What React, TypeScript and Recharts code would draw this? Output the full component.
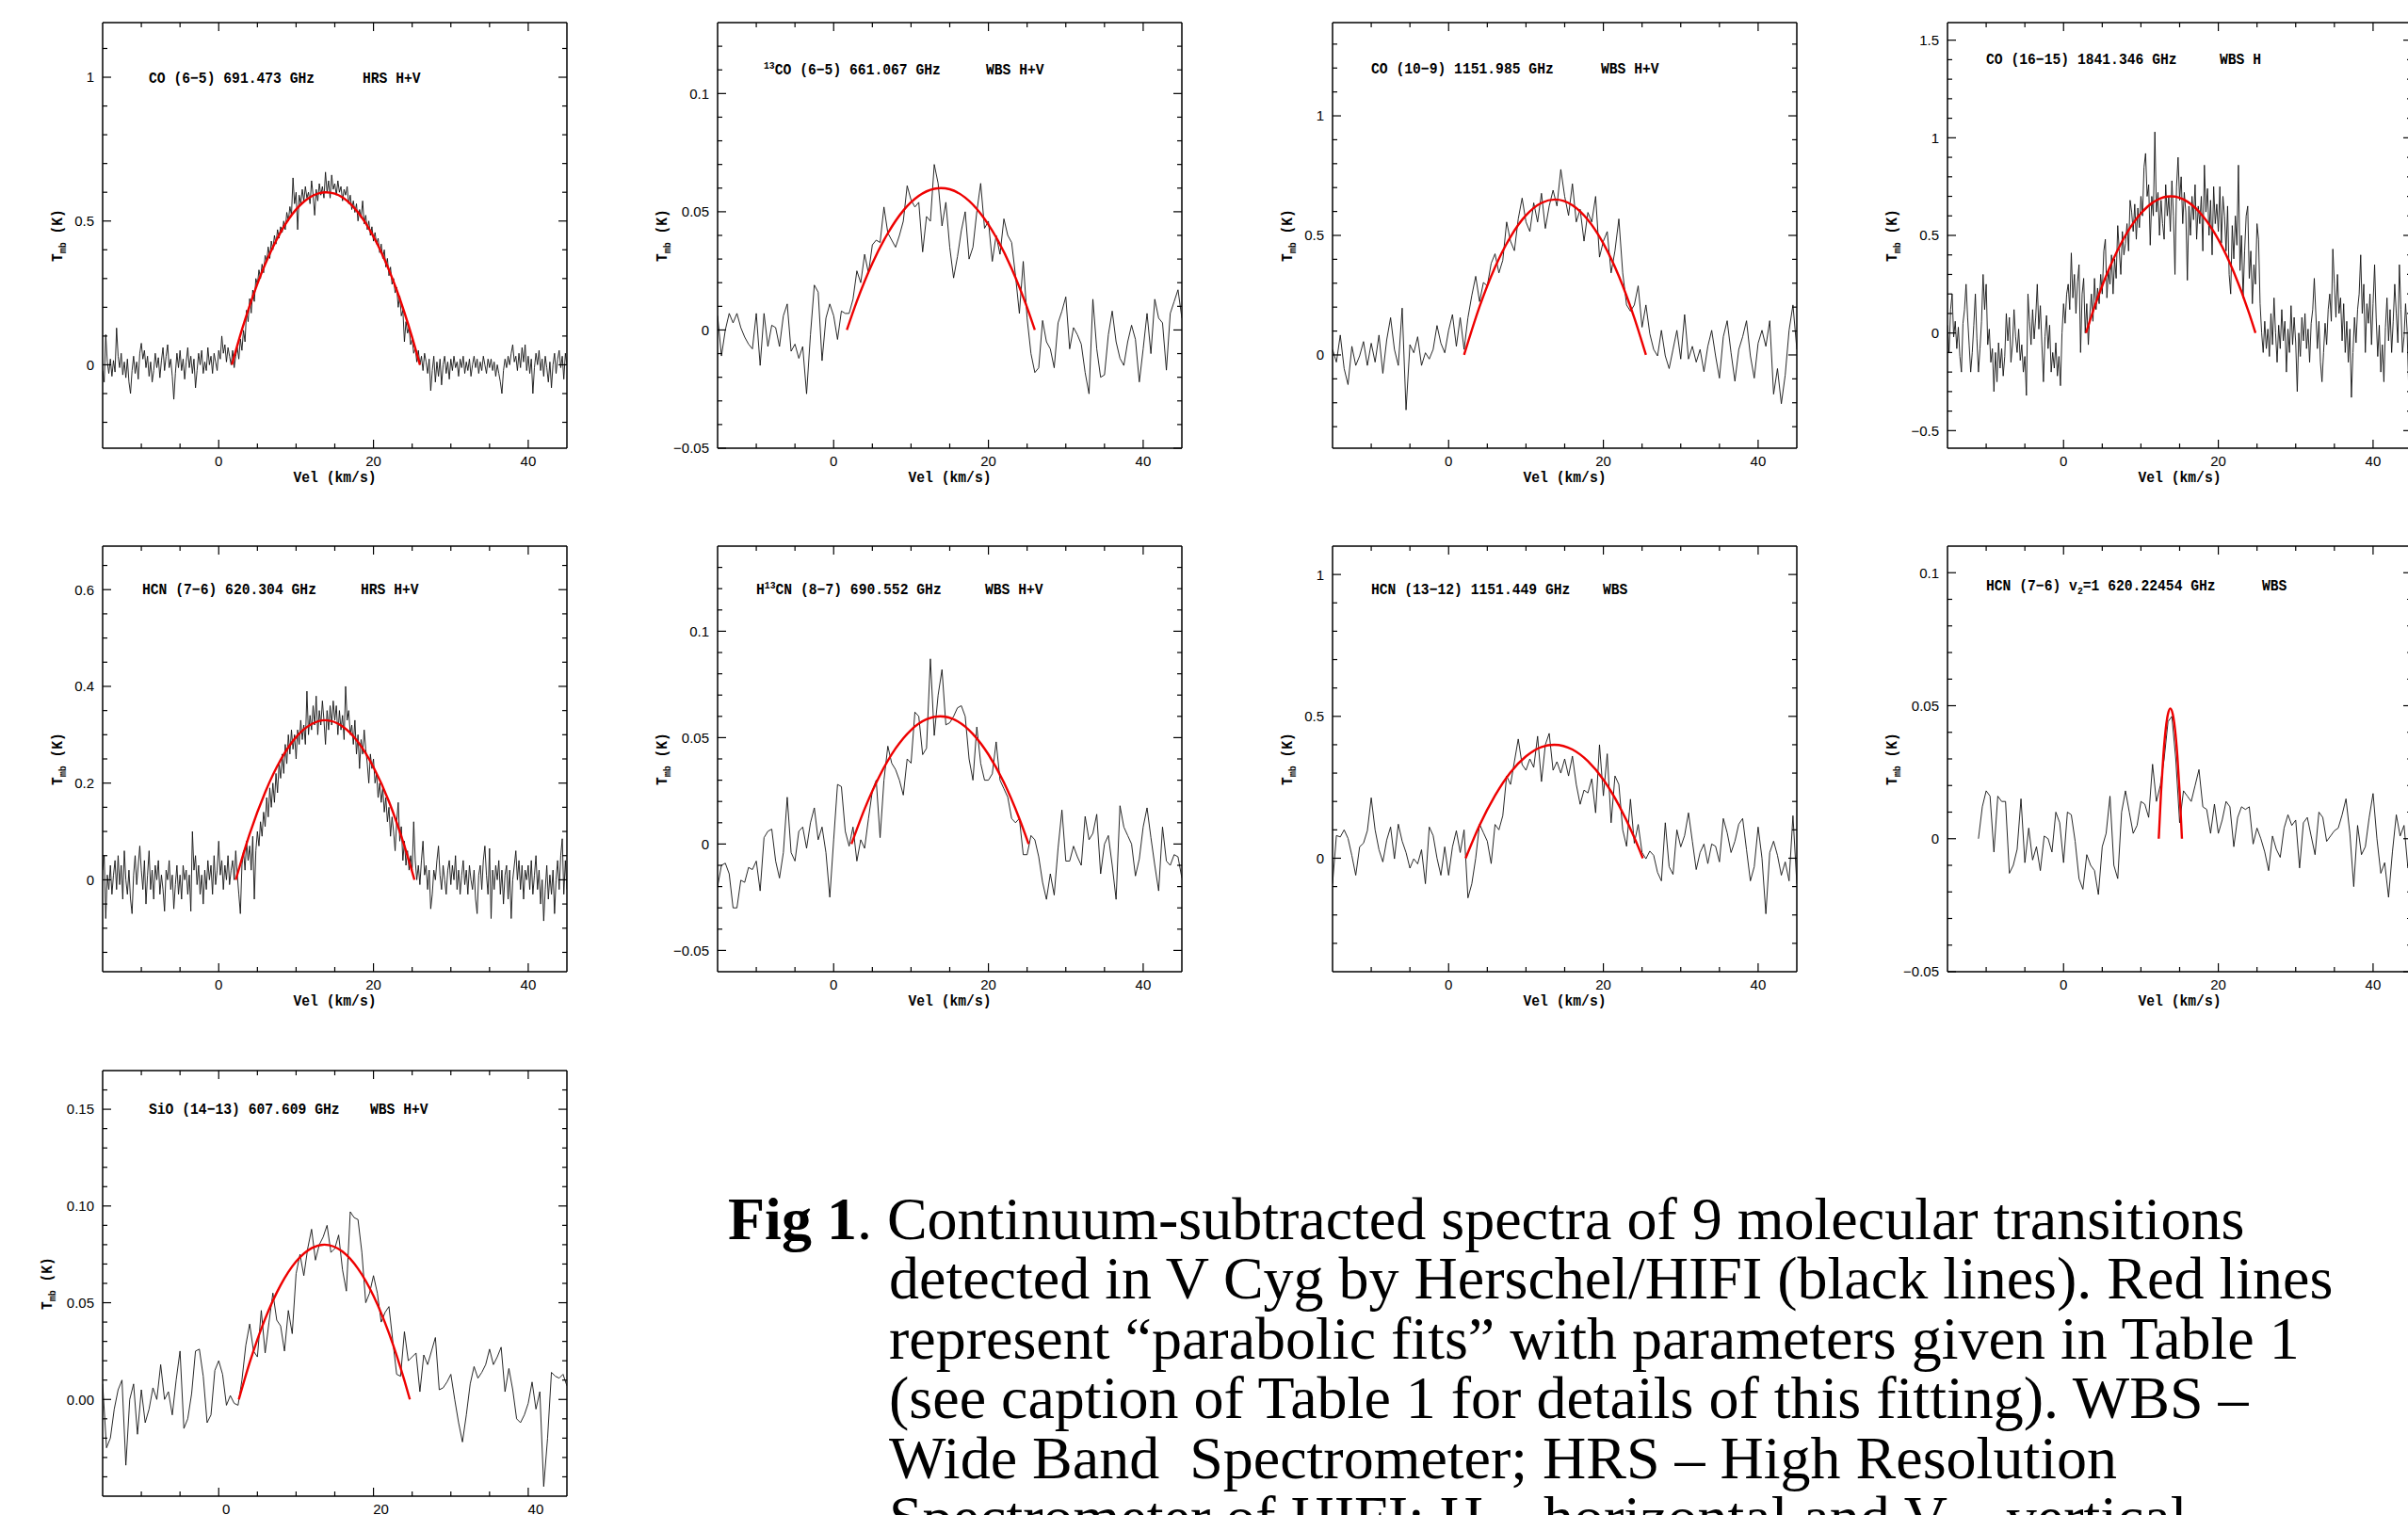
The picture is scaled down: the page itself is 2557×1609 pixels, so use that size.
import React from 'react';
import { LineChart, Line, XAxis, YAxis, ReferenceLine, Label } from 'recharts';

// ---------------- velocity axis (shared) ----------------
const VEL_MIN = -15;
const VEL_MAX = 45;
const VEL_TICKS = [-10, -5, 0, 5, 10, 15, 20, 25, 30, 35, 40];
const VEL_MAJOR = [0, 20, 40];
const VEL_LABELS = ['0', '20', '40'];

// ---------------- spectra (values in mK) ----------------
// CO (6-5) HRS: channels start at -15 km/s, 0.2 km/s apart
const co65Start = -15;
const co65Step = 0.2;
const co65 = [
  -20, -60, 105, 10, -30, 20, -40, 15, -25, 128, 30, -10, 40, -35, 10, -45, 20, -60, -100, -20, 30, -30, 10, -50, 40,
  75, 20, 50, -10, 30, -40, 10, -60, -20, 40, -10, 25, -45, 15, 60, -20, 30, 70, -10, 20, -40, -120, -30, 40, -10,
  50, -20, 20, -50, 10, 60, -10, 30, -30, 20, -80, -20, 40, 0, 50, -30, 10, -20, 60, 0, 30, -30, 40, 10, -20,
  50, 20, 100, 40, 70, 10, 60, 30, 0, 50, -10, 30, 60, 20, 90, 50, 120, 80, 190, 150, 230, 180, 260, 220, 300,
  280, 330, 300, 350, 320, 380, 360, 410, 370, 430, 400, 450, 420, 470, 440, 480, 460, 500, 470, 530, 500, 550, 520, 650, 560,
  600, 470, 590, 560, 610, 570, 620, 580, 600, 560, 640, 590, 520, 610, 570, 630, 590, 620, 580, 670, 600, 640, 580, 660, 610,
  630, 590, 640, 600, 620, 570, 610, 590, 620, 560, 590, 540, 570, 530, 560, 500, 540, 510, 570, 490, 520, 470, 500, 450, 480,
  430, 460, 420, 440, 390, 420, 370, 400, 340, 370, 310, 340, 280, 300, 250, 270, 200, 240, 170, 190, 80, 150, 110, 130, 70,
  90, 40, 60, 10, 50, 0, 30, -20, 40, 10, -30, 20, -90, -20, 30, -60, 10, -40, 20, -70, 0, 30, -30, 10, -50,
  20, -20, 30, -10, 10, -40, 20, -10, 30, -30, 10, -20, 20, -40, 0, 30, -10, 20, -30, 10, -20, 30, 0, -30, 20,
  -10, 20, -20, 10, -40, 0, -30, -60, -100, -20, 20, -10, 30, 0, 40, 70, 10, 30, -20, 40, -10, 60, 10, 70, -20,
  30, -30, 20, -100, -10, 40, 0, 50, -20, 20, -40, 30, -10, -60, 10, -80, 0, 40, -30, 20, 50, -10, 30, -50, 40, 0,
];
const co65FitVel = [1.7, 3, 5, 7, 9, 11, 13, 13.85, 15, 17, 19, 21, 23, 25, 26];
const co65Fit = [0, 122, 282, 409, 505, 567, 597, 600, 595, 560, 492, 392, 260, 95, 0];

// 13CO (6-5) WBS: start -15, 0.5 km/s apart
const c13oStart = -15;
const c13oStep = 0.5;
const c13o = [
  6, -11, 0, 7, 3, 7, 1, -3, -6, -8, 7, -15, 7, -7, 2, 1, -7, 6, 11, -9, -6, -12, -7, -27, -2, 19, 16, -13, 5, 11,
  6, -4, 8, 7, 7, 13, 25, 20, 32, 24, 36, 38, 37, 52, 41, 38, 35, 40, 46, 61, 55, 52, 54, 33, 48, 46, 70, 62, 44, 54,
  35, 22, 31, 42, 50, 30, 35, 50, 62, 43, 46, 29, 40, 32, 47, 40, 37, 23, 7, 29, 5, -10, -18, -16, 4, -5, -8, -16, 3, 8,
  14, -8, 1, -2, -6, -18, -27, 13, -8, -20, -19, -2, 8, -5, -12, -15, -5, 2, -4, -22, -8, 7, -10, 13, 5, 3, -17, 7, 12, 17, 5,
];
const c13oFitVel = [1.7, 3, 5, 7, 9, 11, 13, 13.85, 15, 17, 19, 21, 23, 25, 26];
const c13oFit = [0, 12.2, 28.2, 40.9, 50.5, 56.7, 59.7, 60, 59.5, 56, 49.2, 39.2, 26, 9.5, 0];

// CO (10-9) WBS
const co109Start = -15;
const co109Step = 0.5;
const co109 = [
  23, -30, 83, -57, -124, 36, -44, -4, 56, -44, 49, -30, 83, -77, 63, 156, 23, -44, 196, -230, 43, 9, 76, -44, 9, -17, 23, 123, 49, 9,
  103, 169, 36, 156, 23, 156, 249, 329, 223, 303, 289, 383, 423, 343, 396, 556, 476, 436, 569, 656, 556, 516, 636, 556, 676, 529, 623, 689, 623, 776,
  663, 583, 716, 556, 609, 476, 596, 556, 663, 409, 476, 516, 343, 436, 569, 343, 209, 183, 209, 289, 116, 209, 89, 23, -4, 103, -4, -57, 23, 103,
  -17, 169, -17, 36, -30, 23, -70, 36, 103, -4, -97, 76, 143, 9, -110, 23, 76, 143, -4, -97, 49, 103, 36, 143, -164, -57, -204, -84, 103, 209, 23,
];
const co109FitVel = [2.0, 4, 6, 8, 10, 12, 13.75, 16, 18, 20, 22, 24, 25.5];
const co109Fit = [0, 202, 367, 494, 584, 636, 650, 626, 565, 466, 330, 155, 0];

// CO (16-15) WBS H
const co1615Start = -15;
const co1615Step = 0.2;
const co1615 = [
  40, -100, 120, 200, -20, 60, -80, 30, -120, -200, 50, 120, 250, 80, -60, -200, -100, 40, 200, -30, -200, -80, 60, 300, 120,
  250, -60, 20, -150, -80, -300, -100, -250, -50, -180, -80, -220, -120, 100, -40, 80, -150, -60, 120, -20, -100, 20, -140, -60, -200,
  -120, -320, 200, 60, -60, 120, -30, 80, 250, 20, 140, -60, -250, -20, 90, -80, 40, -200, -100, -180, -50, -220, -120, -270, 0,
  150, 50, 200, 250, 120, 410, 180, 300, 100, 260, 350, -100, 200, 280, 0, 150, -60, 100, 200, 60, 280, 120, 230, 150, 300,
  200, 420, 480, 180, 320, 250, 400, 200, 380, 280, 550, 420, 300, 520, 400, 460, 560, 420, 680, 620, 520, 660, 480, 640, 540,
  700, 600, 850, 920, 700, 760, 450, 700, 600, 1030, 620, 720, 500, 680, 560, 480, 760, 600, 700, 520, 780, 600, 300, 750, 900,
  680, 800, 560, 720, 620, 270, 650, 500, 700, 580, 760, 480, 650, 560, 700, 420, 860, 620, 740, 500, 680, 400, 750, 560, 660,
  520, 750, 460, 700, 600, 420, 650, 300, 200, 550, 380, 600, 450, 860, 320, 500, 180, 420, 600, 650, 280, 420, 150, 350, 250,
  560, 480, 150, 0, -100, 60, -80, 20, -120, 100, -60, 180, 0, -150, 40, -80, 120, -40, 60, -200, 20, -100, 140, -60, 80,
  -50, -300, 0, -120, 80, -40, 100, -80, 20, -150, 50, 120, 280, 100, -80, 60, -150, -250, -100, 50, -60, 120, 200, 60, 430,
  250, 80, 300, 100, 180, -40, 150, -100, 60, -150, 20, -330, -100, 80, -50, 120, 200, 400, 100, 250, -100, 150, 50, 200, -60,
  150, 350, 80, -120, 40, -200, -60, -250, 30, 180, -40, 120, -100, 60, 250, 100, -50, 350, 120, -100, -20, 150, 10, -280, 50, -20,
];
const co1615FitVel = [2.9, 4, 6, 8, 10, 12, 13.85, 16, 18, 20, 22, 24, 24.8];
const co1615Fit = [0, 134, 340, 500, 613, 680, 700, 673, 599, 479, 312, 99, 0];

// HCN (7-6) HRS
const hcn76Start = -15;
const hcn76Step = 0.2;
const hcn76 = [
  20, 50, -80, 10, -20, 30, -30, 10, 40, -20, 50, -10, 30, -40, 60, 0, -30, 20, -40, -70, 10, 50, -10, 30, 70,
  20, -20, 40, -50, 10, 60, -20, 20, -40, 30, 0, 40, -30, 10, -20, -65, 20, 0, 40, -20, 10, -60, -10, 30, -30,
  10, -40, 30, 0, 20, -30, 10, -65, 100, 20, 50, -10, 30, -30, 10, -50, 20, -20, 40, 0, 30, -30, 50, -10, 20,
  80, 10, 40, -20, 30, 0, 50, -10, 20, 40, 0, 60, 10, -30, -70, 30, 60, 20, 80, 40, 70, 20, 90, -40, 60,
  100, 70, 120, 90, 140, 110, 170, 130, 190, 150, 200, 160, 220, 180, 240, 210, 260, 220, 280, 240, 300, 260, 310, 270, 300,
  250, 310, 280, 330, 290, 320, 280, 390, 300, 340, 310, 360, 320, 380, 300, 350, 320, 370, 330, 280, 350, 310, 360, 320, 370,
  330, 360, 300, 350, 310, 340, 290, 400, 330, 350, 300, 320, 280, 330, 260, 300, 230, 290, 260, 310, 270, 240, 200, 260, 230,
  250, 200, 220, 170, 200, 160, 190, 140, 170, 120, 150, 90, 130, 100, 60, 120, 160, 80, 110, 40, 80, 30, 60, 20, 50,
  20, 120, 40, 0, 30, -10, 40, 80, 10, 30, -20, 20, -60, -30, 20, 0, 40, 70, 10, -20, 30, 0, -30, 20, 40,
  -10, 30, 0, 50, -20, 20, -30, 10, 40, -10, 20, -30, 30, 0, -20, 20, -40, -70, 10, 30, -20, 40, 70, 10, -30,
  65, -80, 20, -20, 30, 0, 40, -30, 20, -50, 10, 30, -40, 20, -80, 0, 30, 60, 0, 40, -20, 30, -40, 20, 0,
  30, -20, 40, -30, 10, 50, -20, 20, -50, 0, -85, -20, 30, -40, 10, -30, 20, -70, 0, 40, -20, 50, 85, -30, 40, -20,
];
const hcn76FitVel = [2.2, 4, 6, 8, 10, 12, 13.75, 16, 18, 20, 22, 24, 25.3];
const hcn76Fit = [0, 95, 181, 248, 295, 322, 330, 317, 285, 233, 162, 70, 0];

// H13CN (8-7) WBS
const h13cnStart = -15;
const h13cnStep = 0.5;
const h13cn = [
  -20, -10, -9, -14, -30, -30, -17, -18, -11, -12, -8, -22, 3, 6, 7, -8, -16, -4, 22, -4, -8, 6, 8, -2, 10, 17, 2, 8, -4, -25,
  2, 28, 27, 6, -1, 8, -8, 2, -2, 12, 25, 30, 3, 30, 46, 38, 35, 30, 23, 40, 38, 62, 60, 42, 45, 87, 51, 70, 82, 56,
  57, 60, 64, 65, 60, 40, 30, 55, 38, 30, 30, 33, 48, 30, 26, 22, 12, 10, 12, -5, -5, 4, 2, -6, -18, -26, -14, -24, -2, 16,
  -8, -8, -1, -6, -10, 13, 2, 5, 14, -14, 0, 4, -10, -26, 18, 8, 4, 0, -15, -7, 8, 17, 3, -10, -22, 8, -8, -10, -5, -6, -16,
];
const h13cnFitVel = [2.3, 4, 6, 8, 10, 12, 13.75, 16, 18, 20, 22, 24, 25.2];
const h13cnFit = [0, 16.5, 32.5, 44.9, 53.6, 58.6, 60, 57.7, 51.7, 42.1, 28.9, 11.9, 0];

// HCN (13-12) WBS
const hcn1312Start = -15;
const hcn1312Step = 0.5;
const hcn1312 = [
  -90, 80, 75, 100, 70, 9, -60, 40, 53, 97, 213, 100, 30, -13, 64, 110, -2, 120, 60, 20, -35, -2, -20, 30, -90, 110, 80, 0, -60, 40,
  -60, 40, 97, 20, 100, -140, -90, 0, 120, 90, 60, -19, 119, 100, 150, 290, 260, 340, 420, 330, 310, 350, 320, 430, 270, 400, 440, 310, 340, 300,
  350, 290, 360, 260, 190, 240, 230, 280, 160, 400, 220, 368, 125, 290, 260, 100, 42, 208, 53, 119, 20, -2, 25, 10, -50, -80, 125, -30, -57, 100,
  40, 80, 160, 60, -40, 20, 50, -19, 50, 42, -13, 140, 90, 20, 60, 120, 140, 30, -80, -30, 110, 0, -196, 20, 60, 10, -60, -13, -80, 150, -90,
];
const hcn1312FitVel = [2.2, 4, 6, 8, 10, 12, 13.65, 16, 18, 20, 22, 24, 25.1];
const hcn1312Fit = [0, 116, 221, 303, 359, 392, 400, 383, 342, 277, 187, 73, 0];

// HCN (7-6) v2=1 WBS: starts at -11 km/s
const hcnv2Start = -11;
const hcnv2Step = 0.5;
const hcnv2 = [
  0, 12, 18, 16, -5, 16, 14, 14, -13, -10, -4, 15, -9, 4, -8, -3, -12, 1, 0, -5, 10, 6,
  -9, 10, 9, -1, -15, -19, -6, -10, -12, -21, -3, 2, 16, -10, -15, 10, 18, 10, 2, 5, 14, 13, 8, 28, 14, 20, 30, 44, 46, 30,
  6, 18, 16, 14, 20, 26, 12, 11, 2, 13, 2, 7, 14, 12, -3, 8, 12, 11, 12, -2, 4, 0, -5, -12, 1, -4, -7, 4, 9, 5,
  7, -11, 6, 8, 1, -6, 10, 8, -1, 1, 3, 4, 9, 15, 2, -18, 5, -6, -3, 8, 17, 0, -13, -9, -22, -5, 9, 1, 5, -11, -4,
];
const hcnv2FitVel = [12.3, 12.6, 12.9, 13.2, 13.5, 13.8, 14.1, 14.4, 14.7, 15.0, 15.3];
const hcnv2Fit = [0, 17.6, 31.4, 41.2, 47, 49, 47, 41.2, 31.4, 17.6, 0];

// SiO (14-13) WBS
const sioStart = -15;
const sioStep = 0.5;
const sio = [
  8, -25, -20, -5, 5, 10, -34, 0, 8, -18, 5, -12, -5, 6, 0, 18, 0, 4, -8, 10, 25, -15, -10, 3, 25, 26, 12, -12, -8, 15,
  20, 13, -3, 2, -2, -3, 10, 28, 39, 25, 22, 46, 24, 40, 55, 41, 38, 25, 46, 34, 65, 75, 64, 78, 88, 72, 80, 84, 90, 76,
  78, 85, 67, 56, 97, 94, 93, 76, 50, 55, 64, 55, 40, 45, 48, 30, 13, 12, 35, 20, 22, 24, 4, 23, 18, 25, 32, 5, 6, 9,
  13, 0, -12, -22, -8, 8, 17, 11, 14, 18, 26, 18, 22, 27, 4, 16, 5, -10, -12, -8, -2, 9, -5, 4, -45, -20, 14, 12, 11, 13, 7,
];
const sioFitVel = [2.6, 4, 6, 8, 10, 12, 13.65, 16, 18, 20, 22, 24, 24.7];
const sioFit = [0, 19, 41.7, 59.1, 71.3, 78.2, 80, 76.4, 67.6, 53.6, 34.3, 9.8, 0];

// ---------------- temperature axes (K) ----------------
const yCo65 = { domain: [-0.29, 1.19], ticks: [-0.2, -0.1, 0, 0.1, 0.2, 0.3, 0.4, 0.5, 0.6, 0.7, 0.8, 0.9, 1, 1.1], major: [0, 0.5, 1], labels: ['0', '0.5', '1'] };
const yC13o = { domain: [-0.05, 0.13], ticks: [-0.05, -0.04, -0.03, -0.02, -0.01, 0, 0.01, 0.02, 0.03, 0.04, 0.05, 0.06, 0.07, 0.08, 0.09, 0.1, 0.11, 0.12], major: [-0.05, 0, 0.05, 0.1], labels: ['\u22120.05', '0', '0.05', '0.1'] };
const yCo109 = { domain: [-0.39, 1.39], ticks: [-0.3, -0.2, -0.1, 0, 0.1, 0.2, 0.3, 0.4, 0.5, 0.6, 0.7, 0.8, 0.9, 1, 1.1, 1.2, 1.3], major: [0, 0.5, 1], labels: ['0', '0.5', '1'] };
const yCo1615 = { domain: [-0.59, 1.59], ticks: [-0.5, -0.4, -0.3, -0.2, -0.1, 0, 0.1, 0.2, 0.3, 0.4, 0.5, 0.6, 0.7, 0.8, 0.9, 1, 1.1, 1.2, 1.3, 1.4, 1.5], major: [-0.5, 0, 0.5, 1, 1.5], labels: ['\u22120.5', '0', '0.5', '1', '1.5'] };
const yHcn76 = { domain: [-0.19, 0.69], ticks: [-0.15, -0.1, -0.05, 0, 0.05, 0.1, 0.15, 0.2, 0.25, 0.3, 0.35, 0.4, 0.45, 0.5, 0.55, 0.6, 0.65], major: [0, 0.2, 0.4, 0.6], labels: ['0', '0.2', '0.4', '0.6'] };
const yH13cn = { domain: [-0.06, 0.14], ticks: [-0.05, -0.04, -0.03, -0.02, -0.01, 0, 0.01, 0.02, 0.03, 0.04, 0.05, 0.06, 0.07, 0.08, 0.09, 0.1, 0.11, 0.12, 0.13], major: [-0.05, 0, 0.05, 0.1], labels: ['\u22120.05', '0', '0.05', '0.1'] };
const yHcn1312 = { domain: [-0.4, 1.1], ticks: [-0.3, -0.2, -0.1, 0, 0.1, 0.2, 0.3, 0.4, 0.5, 0.6, 0.7, 0.8, 0.9, 1], major: [0, 0.5, 1], labels: ['0', '0.5', '1'] };
const yHcnv2 = { domain: [-0.05, 0.11], ticks: [-0.05, -0.04, -0.03, -0.02, -0.01, 0, 0.01, 0.02, 0.03, 0.04, 0.05, 0.06, 0.07, 0.08, 0.09, 0.1], major: [-0.05, 0, 0.05, 0.1], labels: ['\u22120.05', '0', '0.05', '0.1'] };
const ySio = { domain: [-0.05, 0.17], ticks: [-0.04, -0.03, -0.02, -0.01, 0, 0.01, 0.02, 0.03, 0.04, 0.05, 0.06, 0.07, 0.08, 0.09, 0.1, 0.11, 0.12, 0.13, 0.14, 0.15, 0.16], major: [0, 0.05, 0.1, 0.15], labels: ['0.00', '0.05', '0.10', '0.15'] };

// ---------------- panel titles ----------------
const titles = [
  { name: [{ t: 'CO (6\u22125) 691.473 GHz' }], inst: 'HRS H+V' },
  { name: [{ t: '13', sup: true }, { t: 'CO (6\u22125) 661.067 GHz' }], inst: 'WBS H+V' },
  { name: [{ t: 'CO (10\u22129) 1151.985 GHz' }], inst: 'WBS H+V' },
  { name: [{ t: 'CO (16\u221215) 1841.346 GHz' }], inst: 'WBS H' },
  { name: [{ t: 'HCN (7\u22126) 620.304 GHz' }], inst: 'HRS H+V' },
  { name: [{ t: 'H' }, { t: '13', sup: true }, { t: 'CN (8\u22127) 690.552 GHz' }], inst: 'WBS H+V' },
  { name: [{ t: 'HCN (13\u221212) 1151.449 GHz' }], inst: 'WBS' },
  { name: [{ t: 'HCN (7\u22126) v' }, { t: '2', sub: true }, { t: '=1 620.22454 GHz' }], inst: 'WBS' },
  { name: [{ t: 'SiO (14\u221213) 607.609 GHz' }], inst: 'WBS H+V' },
];

const captionLines = [
  'detected in V Cyg by Herschel/HIFI (black lines). Red lines',
  'represent \u201cparabolic fits\u201d with parameters given in Table 1',
  '(see caption of Table 1 for details of this fitting). WBS \u2013',
  'Wide Band  Spectrometer; HRS \u2013 High Resolution',
  'Spectrometer of HIFI; H \u2013 horizontal and V \u2013 vertical',
];

// ---------------- table builders ----------------
const channelRows = (start: number, step: number, mK: number[]) =>
  mK.map((t, i) => ({ v: Math.round((start + i * step) * 100) / 100, t: t / 1000 }));
const fitRows = (vel: number[], mK: number[]) => vel.map((v, i) => ({ v, t: mK[i] / 1000 }));

// ---------------- layout ----------------
const PW = 493;
const PH = 452;
const ML = 110;
const MR = 4;
const MT = 6;
const MB = 52;
const CW = ML + PW + MR;
const CH = MT + PH + MB;
const COLS = [109, 762, 1415, 2068];
const ROWS = [24, 580, 1137];

const LABEL_FONT = "'Liberation Mono','DejaVu Sans Mono',monospace";
const LABEL_SIZE = 16.5;
const LABEL_SX = 0.89;
const TICK_FONT = "'Liberation Sans',Arial,sans-serif";
const INK = '#000';

const PANELS = [
  { col: 0, row: 0, spec: channelRows(co65Start, co65Step, co65), fit: fitRows(co65FitVel, co65Fit), y: yCo65, title: titles[0], tx: 49, ty: 64, ix: 276, yt: 49, xdx: 0 },
  { col: 1, row: 0, spec: channelRows(c13oStart, c13oStep, c13o), fit: fitRows(c13oFitVel, c13oFit), y: yC13o, title: titles[1], tx: 49, ty: 55, ix: 285, yt: 60, xdx: 0 },
  { col: 2, row: 0, spec: channelRows(co109Start, co109Step, co109), fit: fitRows(co109FitVel, co109Fit), y: yCo109, title: titles[2], tx: 41, ty: 54, ix: 285, yt: 49, xdx: 0 },
  { col: 3, row: 0, spec: channelRows(co1615Start, co1615Step, co1615), fit: fitRows(co1615FitVel, co1615Fit), y: yCo1615, title: titles[3], tx: 41, ty: 44, ix: 289, yt: 60, xdx: 0 },
  { col: 0, row: 1, spec: channelRows(hcn76Start, hcn76Step, hcn76), fit: fitRows(hcn76FitVel, hcn76Fit), y: yHcn76, title: titles[4], tx: 42, ty: 51, ix: 274, yt: 49, xdx: 0 },
  { col: 1, row: 1, spec: channelRows(h13cnStart, h13cnStep, h13cn), fit: fitRows(h13cnFitVel, h13cnFit), y: yH13cn, title: titles[5], tx: 41, ty: 51, ix: 284, yt: 60, xdx: 0 },
  { col: 2, row: 1, spec: channelRows(hcn1312Start, hcn1312Step, hcn1312), fit: fitRows(hcn1312FitVel, hcn1312Fit), y: yHcn1312, title: titles[6], tx: 41, ty: 51, ix: 287, yt: 49, xdx: 0 },
  { col: 3, row: 1, spec: channelRows(hcnv2Start, hcnv2Step, hcnv2), fit: fitRows(hcnv2FitVel, hcnv2Fit), y: yHcnv2, title: titles[7], tx: 41, ty: 47, ix: 334, yt: 60, xdx: 0 },
  { col: 0, row: 2, spec: channelRows(sioStart, sioStep, sio), fit: fitRows(sioFitVel, sioFit), y: ySio, title: titles[8], tx: 49, ty: 46, ix: 284, yt: 60, xdx: 8 },
];

const near = (a: number, b: number) => Math.abs(a - b) < 1e-6;

function RichText({ parts, x, y }: { parts: any[]; x: number; y: number }) {
  let shift = 0;
  return (
    <g transform={`translate(${x}, ${y}) scale(${LABEL_SX}, 1)`}>
      <text x={0} y={0} fontFamily={LABEL_FONT} fontWeight="bold" fontSize={LABEL_SIZE} fill={INK} style={{ whiteSpace: 'pre' }}>
        {parts.map((p, i) => {
          const target = p.sup ? -6 : p.sub ? 4 : 0;
          const dy = target - shift;
          shift = target;
          return (
            <tspan key={i} dy={dy} fontSize={p.sup || p.sub ? 11 : LABEL_SIZE}>
              {p.t}
            </tspan>
          );
        })}
      </text>
    </g>
  );
}

function Panel({ cfg }: { cfg: any }) {
  const { col, row, spec, fit, y, title, tx, ty, ix, yt, xdx } = cfg;
  const left = COLS[col];
  const top = ROWS[row];

  const renderXTick = (props: any) => {
    const { x, y: yy, payload } = props;
    const mi = VEL_MAJOR.findIndex((m) => near(m, payload.value));
    const len = mi >= 0 ? 9 : 5;
    return (
      <g>
        <line x1={x} x2={x} y1={yy} y2={yy - len} stroke={INK} strokeWidth={1.2} />
        <line x1={x} x2={x} y1={yy - PH} y2={yy - PH + len} stroke={INK} strokeWidth={1.2} />
        {mi >= 0 && (
          <text x={x + xdx} y={yy + 19} textAnchor="middle" fontFamily={TICK_FONT} fontSize={15} fill={INK}>
            {VEL_LABELS[mi]}
          </text>
        )}
      </g>
    );
  };

  const renderYTick = (props: any) => {
    const { x, y: yy, payload } = props;
    const mi = y.major.findIndex((m: number) => near(m, payload.value));
    const len = mi >= 0 ? 9 : 5;
    return (
      <g>
        <line x1={x} x2={x + len} y1={yy} y2={yy} stroke={INK} strokeWidth={1.2} />
        <line x1={x + PW} x2={x + PW - len} y1={yy} y2={yy} stroke={INK} strokeWidth={1.2} />
        {mi >= 0 && (
          <text x={x - 9} y={yy} dy="0.36em" textAnchor="end" fontFamily={TICK_FONT} fontSize={15} fill={INK}>
            {y.labels[mi]}
          </text>
        )}
      </g>
    );
  };

  const xTitle = () => (
    <g transform={`translate(${ML + PW / 2}, ${MT + PH + 36}) scale(${LABEL_SX}, 1)`}>
      <text x={0} y={0} textAnchor="middle" fontFamily={LABEL_FONT} fontWeight="bold" fontSize={LABEL_SIZE} fill={INK}>
        Vel (km/s)
      </text>
    </g>
  );

  const yTitle = () => (
    <g>
      <text
        transform={`translate(${ML - yt}, ${MT + PH / 2}) rotate(-90) scale(${LABEL_SX}, 1)`}
        textAnchor="middle"
        dy="0.35em"
        fontFamily={LABEL_FONT}
        fontWeight="bold"
        fontSize={LABEL_SIZE}
        fill={INK}
        style={{ whiteSpace: 'pre' }}
      >
        T<tspan fontSize={11} dy={4}>mb</tspan>
        <tspan dy={-4}> (K)</tspan>
      </text>
      <RichText parts={title.name} x={ML + tx} y={MT + ty} />
      <g transform={`translate(${ML + ix}, ${MT + ty}) scale(${LABEL_SX}, 1)`}>
        <text x={0} y={0} fontFamily={LABEL_FONT} fontWeight="bold" fontSize={LABEL_SIZE} fill={INK}>
          {title.inst}
        </text>
      </g>
    </g>
  );

  return (
    <div style={{ position: 'absolute', left: left - ML, top: top - MT }}>
      <LineChart width={CW} height={CH} margin={{ top: MT, right: MR, bottom: 0, left: 0 }}>
        <XAxis
          dataKey="v"
          type="number"
          domain={[VEL_MIN, VEL_MAX]}
          ticks={VEL_TICKS}
          interval={0}
          allowDataOverflow
          height={MB}
          tickLine={false}
          tickSize={0}
          tickMargin={0}
          axisLine={{ stroke: INK, strokeWidth: 1.5 }}
          tick={renderXTick}
        >
          <Label content={xTitle} />
        </XAxis>
        <YAxis
          type="number"
          domain={y.domain}
          ticks={y.ticks}
          interval={0}
          allowDataOverflow
          width={ML}
          tickLine={false}
          tickSize={0}
          tickMargin={0}
          axisLine={{ stroke: INK, strokeWidth: 1.5 }}
          tick={renderYTick}
        >
          <Label content={yTitle} />
        </YAxis>
        <ReferenceLine y={y.domain[1]} stroke={INK} strokeWidth={1.5} />
        <ReferenceLine x={VEL_MAX} stroke={INK} strokeWidth={1.5} />
        <Line data={spec} dataKey="t" type="linear" stroke="#111" strokeWidth={0.9} dot={false} isAnimationActive={false} />
        <Line data={fit} dataKey="t" type="monotone" stroke="#ee0000" strokeWidth={2.4} dot={false} isAnimationActive={false} />
      </LineChart>
    </div>
  );
}

export default function App() {
  const capFont = "'Liberation Serif','Times New Roman',serif";
  return (
    <div style={{ position: 'absolute', left: 0, top: 0, width: 2557, height: 1609, overflow: 'hidden', background: '#fff' }}>
      {PANELS.map((p, i) => (
        <Panel key={i} cfg={p} />
      ))}
      <svg width={2557} height={1609} style={{ position: 'absolute', left: 0, top: 0, pointerEvents: 'none' }}>
        <text x={773} y={1316} fontFamily={capFont} fontSize={64} fill={INK} style={{ whiteSpace: 'pre' }}>
          <tspan fontWeight="bold">Fig 1</tspan>. Continuum-subtracted spectra of 9 molecular transitions
        </text>
        {captionLines.map((line, i) => (
          <text key={i} x={944} y={1379 + i * 63.5} fontFamily={capFont} fontSize={64} fill={INK} style={{ whiteSpace: 'pre' }}>
            {line}
          </text>
        ))}
      </svg>
    </div>
  );
}
